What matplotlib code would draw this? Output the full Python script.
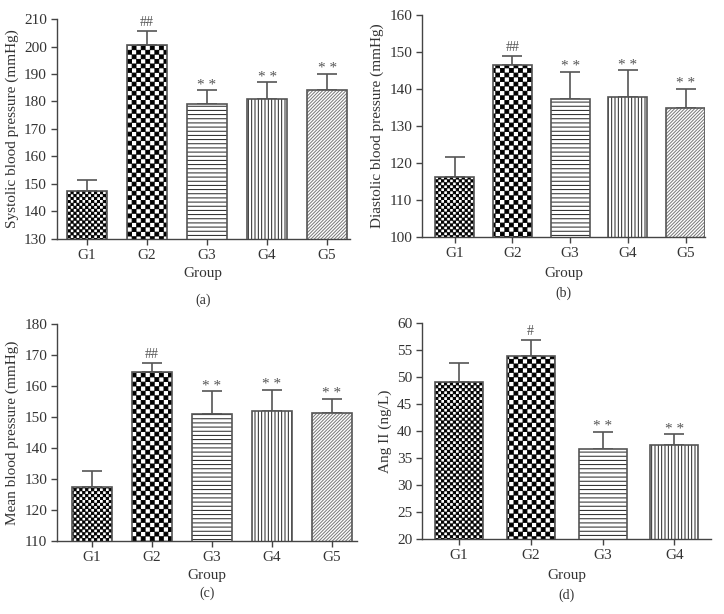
import warnings
warnings.filterwarnings("ignore")
import numpy as np
import matplotlib
matplotlib.use("Agg")
import matplotlib.pyplot as plt
import matplotlib.hatch as mhatch
from matplotlib.path import Path

# ---------------- data ----------------
groups5 = ["G1", "G2", "G3", "G4", "G5"]
groups4 = ["G1", "G2", "G3", "G4"]

sbp_mean = [147.5, 200.5, 179.0, 181.0, 184.3]
sbp_err = [3.8, 5.0, 5.0, 6.0, 5.7]
sbp_marks = ["", "##", "* *", "* *", "* *"]

dbp_mean = [116.3, 146.5, 137.2, 137.8, 134.8]
dbp_err = [5.2, 2.3, 7.5, 7.2, 5.2]
dbp_marks = ["", "##", "* *", "* *", "* *"]

mbp_mean = [127.5, 164.5, 151.0, 152.0, 151.3]
mbp_err = [5.2, 3.0, 7.3, 6.8, 4.7]
mbp_marks = ["", "##", "* *", "* *", "* *"]

ang_mean = [49.0, 53.8, 36.7, 37.5]
ang_err = [3.5, 3.0, 3.1, 1.9]
ang_marks = ["", "#", "* *", "* *"]

# ---------------- custom checkerboard hatches ----------------
class _Checker(mhatch.HatchPatternBase):
    char = "c"
    ncell = 34

    def __init__(self, hatch, density):
        self.on = hatch.count(self.char) > 0
        n = self.ncell
        self.nsq = (n * n) // 2 if self.on else 0
        self.num_vertices = self.nsq * 5

    def set_vertices_and_codes(self, vertices, codes):
        n = self.ncell
        eps = 0.0035
        k = 0
        for i in range(n):
            for j in range(n):
                if (i + j) % 2 == 0:
                    x0, y0 = i / n + eps, j / n + eps
                    x1, y1 = (i + 1) / n - eps, (j + 1) / n - eps
                    vertices[k:k + 5] = [[x0, y0], [x1, y0], [x1, y1], [x0, y1], [x0, y0]]
                    codes[k:k + 5] = [Path.MOVETO, Path.LINETO, Path.LINETO,
                                      Path.LINETO, Path.CLOSEPOLY]
                    k += 5


class FineChecker(_Checker):
    char = "c"
    ncell = 34


class CoarseChecker(_Checker):
    char = "C"
    ncell = 22


mhatch._hatch_types.append(FineChecker)
mhatch._hatch_types.append(CoarseChecker)

plt.rcParams["font.family"] = ["Liberation Serif", "DejaVu Serif"]
plt.rcParams["hatch.linewidth"] = 0.7

hatches = ["c", "C", "----", "|||||", "//////////"]
hatch_cols = ["black", "black", "#222222", "#222222", "#777777"]
edge_col = "#555555"
text_col = "#333333"

fig = plt.figure(figsize=(7.24, 6.14), dpi=100)


def panel(rect, cats, means, errs, marks, ylim, yticks, ylabel, xlim, width, tag, tag_y, grp_y):
    ax = fig.add_axes(rect)
    x = np.arange(len(cats))
    for i in range(len(cats)):
        ax.bar(x[i], means[i], width, bottom=0, color="white",
               edgecolor=hatch_cols[i], hatch=hatches[i], linewidth=0, zorder=2)
    ax.bar(x, means, width, fill=False, edgecolor=edge_col, linewidth=1.2, zorder=3)
    ax.errorbar(x, means, yerr=[np.zeros(len(errs)), errs], fmt="none",
                ecolor="#555555", elinewidth=1.2, capsize=7, capthick=1.2, zorder=1)
    for i in range(len(cats)):
        if marks[i]:
            off = 1.5 if "#" in marks[i] else -1
            fs = 10 if "#" in marks[i] else 11
            ax.annotate(marks[i], (x[i], means[i] + errs[i]), xytext=(0, off),
                        textcoords="offset points", ha="center", va="bottom",
                        fontsize=fs, color="#555555")
    ax.set_ylim(*ylim)
    ax.set_xlim(*xlim)
    ax.set_yticks(yticks)
    ax.set_xticks(x)
    ax.set_xticklabels(cats)
    for s in ["top", "right"]:
        ax.spines[s].set_visible(False)
    for s in ["left", "bottom"]:
        ax.spines[s].set_color("#444444")
        ax.spines[s].set_linewidth(1.0)
    ax.tick_params(direction="out", length=4, width=1.0, color="#444444",
                   labelsize=11, labelcolor=text_col, pad=3)
    ax.set_ylabel(ylabel, fontsize=11, color=text_col, labelpad=4)
    x0, x1 = rect[0], rect[0] + rect[2]
    fig.text((x0 + x1) / 2, grp_y, "Group", ha="center", va="center",
             fontsize=11, color=text_col)
    fig.text((x0 + x1) / 2, tag_y, tag, ha="center", va="center",
             fontsize=10, color=text_col)
    return ax


panel([0.0783, 0.611, 0.405, 0.358], groups5, sbp_mean, sbp_err, sbp_marks,
      (130, 210), np.arange(130, 211, 10), "Systolic blood pressure (mmHg)",
      (-0.505, 4.38), 0.667, "(a)", 1 - 300 / 614, 1 - 273 / 614)

panel([0.583, 0.614, 0.391, 0.3616], groups5, dbp_mean, dbp_err, dbp_marks,
      (100, 160), np.arange(100, 161, 10), "Diastolic blood pressure (mmHg)",
      (-0.563, 4.34), 0.675, "(b)", 1 - 293 / 614, 1 - 273 / 614)

panel([0.0787, 0.119, 0.414, 0.353], groups5, mbp_mean, mbp_err, mbp_marks,
      (110, 180), np.arange(110, 181, 10), "Mean blood pressure (mmHg)",
      (-0.583, 4.42), 0.667, "(c)", 1 - 593 / 614, 1 - 575 / 614)

panel([0.583, 0.122, 0.399, 0.352], groups4, ang_mean, ang_err, ang_marks,
      (20, 60), np.arange(20, 61, 5), "Ang II (ng/L)",
      (-0.507, 3.507), 0.667, "(d)", 1 - 595 / 614, 1 - 575 / 614)

fig.savefig("out.png", dpi=100)
